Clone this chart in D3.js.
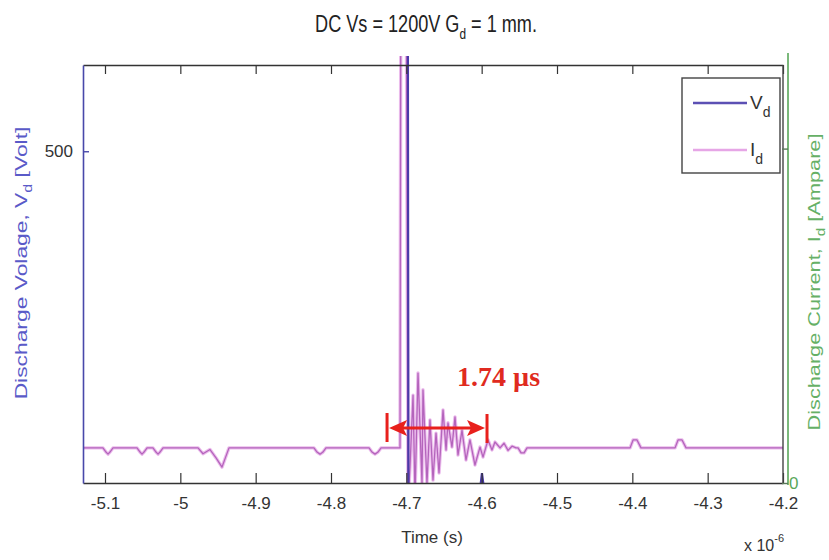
<!DOCTYPE html>
<html>
<head>
<meta charset="utf-8">
<script src="https://cdn.jsdelivr.net/npm/d3@7"></script>
<style>
  html, body { margin: 0; padding: 0; background: #fff; }
  svg { display: block; }
  .sans { font-family: "Liberation Sans", Arial, sans-serif; }
</style>
</head>
<body>
<svg id="chart" width="829" height="560"></svg>
<script>
// Time axis (units of 1e-6 s)
const timeTicks = [-5.1, -5, -4.9, -4.8, -4.7, -4.6, -4.5, -4.4, -4.3, -4.2];
const timeTickLabels = ["-5.1", "-5", "-4.9", "-4.8", "-4.7", "-4.6", "-4.5", "-4.4", "-4.3", "-4.2"];

// Left axis: discharge voltage
const voltTicks = [500];
const voltTickLabels = ["500"];
// Right axis: discharge current
const currentTicks = [0, 8];
const currentTickLabels = ["0", ""];

// Discharge voltage V_d trace
const voltTime = [-5.1292, -4.6985, -4.6972, -4.6020, -4.5996, -4.5970, -4.2];
const voltValue = [1200, 1200, -8, -8, 15, -8, -8];

// Discharge current I_d trace
const currentTime = [
  -5.1292,
  -5.1027, -5.0987, -5.0960, -5.0934, -5.0894,
  -5.0575, -5.0535, -5.0509, -5.0482, -5.0442,
  -5.0363, -5.0323, -5.0296, -5.0270, -5.0230,
  -4.9765, -4.9699, -4.9606, -4.9526, -4.9447, -4.9354,
  -4.8226, -4.8186, -4.8146, -4.8107, -4.8067,
  -4.7495, -4.7456, -4.7416, -4.7376, -4.7336,
  -4.7084, -4.7071, -4.7004, -4.6978, -4.6951, -4.6911, -4.6885,
  -4.6845, -4.6792, -4.6779, -4.6726, -4.6686, -4.6646, -4.6606,
  -4.6566, -4.6513, -4.6473, -4.6447, -4.6394, -4.6354, -4.6314,
  -4.6261, -4.6208, -4.6155, -4.6089, -4.6022, -4.5982, -4.5916,
  -4.5863, -4.5823, -4.5756, -4.5703, -4.5650, -4.5597, -4.5544,
  -4.5517, -4.5477, -4.5437, -4.5398,
  -4.4030, -4.3990, -4.3938, -4.3885,
  -4.3433, -4.3393, -4.3340, -4.3287,
  -4.2
];
const currentValue = [
  0.84,
  0.84, 0.74, 0.69, 0.74, 0.84,
  0.84, 0.74, 0.69, 0.74, 0.84,
  0.84, 0.74, 0.69, 0.74, 0.84,
  0.84, 0.70, 0.80, 0.60, 0.38, 0.84,
  0.84, 0.74, 0.69, 0.74, 0.84,
  0.84, 0.74, 0.69, 0.74, 0.84,
  0.84, 14, 14, -0.5, 0.4, 2.10, -0.3,
  2.63, 0.0, 2.23, 0.0, 1.51, 0.07, 1.19,
  0.24, 1.75, 0.79, 1.44, 0.86, 1.58, 0.67,
  1.26, 0.55, 1.03, 0.43, 0.86, 0.62, 1.03,
  0.79, 0.98, 0.84, 0.95, 0.78, 0.88, 0.84,
  0.84, 0.72, 0.72, 0.84,
  0.84, 1.03, 1.03, 0.84,
  0.84, 1.03, 1.03, 0.84,
  0.84
];

// Pulse-width annotation (time units of 1e-6 s)
const spanStart = -4.7256;
const spanEnd = -4.5929;
const spanLabel = "1.74 \u00b5s";

const svg = d3.select("#chart");
const plot = { left: 83, right: 783, top: 65, bottom: 483 };

const x = d3.scaleLinear().domain([-5.1292, -4.2]).range([plot.left, plot.right]);
const yV = d3.scaleLinear().domain([0, 630]).range([plot.bottom, plot.top]);
const yI = d3.scaleLinear().domain([0, 10]).range([plot.bottom, plot.top]);

svg.append("defs").append("clipPath").attr("id", "plotClip")
  .append("rect")
  .attr("x", plot.left).attr("y", plot.top - 9)
  .attr("width", plot.right - plot.left).attr("height", plot.bottom - plot.top + 9);

// Squeeze or stretch a text element along its own direction to a given length
function fitLength(sel, cx, cy, angle, target) {
  const w = sel.node().getBBox().width;
  const s = target / w;
  sel.attr("transform", `translate(${cx},${cy}) rotate(${angle}) scale(${s},1)`);
}

// Title
const title = svg.append("text").attr("class", "sans")
  .attr("x", 0).attr("y", 0).attr("text-anchor", "middle")
  .attr("font-size", 23).attr("fill", "#222");
title.append("tspan").text("DC Vs = 1200V G");
title.append("tspan").attr("font-size", 15).attr("dy", 7).text("d");
title.append("tspan").attr("dy", -7).text(" = 1 mm.");
fitLength(title, 426, 32, 0, 222);

// Traces
const traces = svg.append("g").attr("clip-path", "url(#plotClip)");
const lineI = d3.line().x(d => x(d[0])).y(d => yI(d[1]));
const lineV = d3.line().x(d => x(d[0])).y(d => yV(d[1]));
const currentPts = currentTime.map((t, i) => [t, currentValue[i]]);

traces.append("path").datum(currentPts).attr("d", lineI)
  .attr("fill", "none").attr("stroke", "#ebbcec").attr("stroke-width", 3.4)
  .attr("stroke-linejoin", "round");
traces.append("path").datum(currentPts).attr("d", lineI)
  .attr("fill", "none").attr("stroke", "#b464bc").attr("stroke-width", 1.3)
  .attr("stroke-linejoin", "round");
traces.append("path")
  .datum(voltTime.map((t, i) => [t, voltValue[i]]))
  .attr("d", lineV)
  .attr("fill", "none").attr("stroke", "#4a3aa8").attr("stroke-width", 2.2);

// Box: bottom and top time axes
const xBottom = d3.axisBottom(x).tickValues(timeTicks)
  .tickFormat((d, i) => timeTickLabels[i]).tickSizeInner(-10).tickSizeOuter(0).tickPadding(14);
const gxb = svg.append("g").attr("transform", `translate(0,${plot.bottom})`).call(xBottom);
gxb.select(".domain").attr("stroke", "#333").attr("stroke-width", 1.6);
gxb.selectAll(".tick line").attr("stroke", "#333").attr("stroke-width", 1.2);
gxb.selectAll(".tick text").attr("class", "sans").attr("font-size", 17).attr("fill", "#333");

const xTop = d3.axisTop(x).tickValues(timeTicks).tickFormat("").tickSizeInner(-9).tickSizeOuter(0);
const gxt = svg.append("g").attr("transform", `translate(0,${plot.top})`).call(xTop);
gxt.select(".domain").attr("stroke", "#333").attr("stroke-width", 1.6);
gxt.selectAll(".tick line").attr("stroke", "#333").attr("stroke-width", 1.2);

// Right edge of the box
svg.append("line").attr("x1", plot.right).attr("x2", plot.right)
  .attr("y1", plot.top).attr("y2", plot.bottom)
  .attr("stroke", "#444").attr("stroke-width", 1.4);

// Left voltage axis
const yLeft = d3.axisLeft(yV).tickValues(voltTicks)
  .tickFormat((d, i) => voltTickLabels[i]).tickSizeInner(-6).tickSizeOuter(0).tickPadding(10);
const gyl = svg.append("g").attr("transform", `translate(${plot.left},0)`).call(yLeft);
gyl.select(".domain").attr("stroke", "#4848aa").attr("stroke-width", 1.6);
gyl.selectAll(".tick line").attr("stroke", "#4848aa").attr("stroke-width", 1.4);
gyl.selectAll(".tick text").attr("class", "sans").attr("font-size", 17).attr("fill", "#333");

// Right current axis
const yRight = d3.axisRight(yI).tickValues(currentTicks)
  .tickFormat((d, i) => currentTickLabels[i]).tickSizeInner(-6).tickSizeOuter(0).tickPadding(1);
const gyr = svg.append("g").attr("transform", `translate(${plot.right + 5},0)`).call(yRight);
gyr.select(".domain").attr("stroke", "#5aa85a").attr("stroke-width", 1.6)
  .attr("d", `M0,${plot.top - 12}V${plot.bottom + 2}`);
gyr.selectAll(".tick line").attr("stroke", "#5a7a5a").attr("stroke-width", 1.4);
gyr.selectAll(".tick text").attr("class", "sans").attr("font-size", 17).attr("fill", "#5aa85a");

// Axis titles
const yLabL = svg.append("text").attr("class", "sans")
  .attr("text-anchor", "middle").attr("font-size", 17).attr("fill", "#5a5ac8");
yLabL.append("tspan").text("Discharge Volage, V");
yLabL.append("tspan").attr("font-size", 12).attr("dy", 5).text("d");
yLabL.append("tspan").attr("dy", -5).text(" [Volt]");
fitLength(yLabL, 27, 263, -90, 273);

const yLabR = svg.append("text").attr("class", "sans")
  .attr("text-anchor", "middle").attr("font-size", 17).attr("fill", "#66b066");
yLabR.append("tspan").text("Discharge Current, I");
yLabR.append("tspan").attr("font-size", 12).attr("dy", 5).text("d");
yLabR.append("tspan").attr("dy", -5).text(" [Ampare]");
fitLength(yLabR, 820, 282, -90, 297);

svg.append("text").attr("class", "sans")
  .attr("x", 432).attr("y", 543).attr("text-anchor", "middle")
  .attr("font-size", 17).attr("fill", "#333").text("Time (s)");

const expo = svg.append("text").attr("class", "sans")
  .attr("x", 744).attr("y", 551).attr("font-size", 16).attr("fill", "#333");
expo.append("tspan").text("x 10");
expo.append("tspan").attr("font-size", 11).attr("dy", -9).text("-6");

// Legend
const legend = svg.append("g");
legend.append("rect").attr("x", 682).attr("y", 78).attr("width", 98).attr("height", 95)
  .attr("fill", "#fff").attr("stroke", "#444").attr("stroke-width", 1.4);
const legendItems = [
  { name: "V", sub: "d", color: "#5c50b4", y: 103 },
  { name: "I", sub: "d", color: "#e6a6e6", y: 150 }
];
legendItems.forEach(item => {
  legend.append("line").attr("x1", 693).attr("x2", 747)
    .attr("y1", item.y).attr("y2", item.y)
    .attr("stroke", item.color).attr("stroke-width", 2.4);
  const t = legend.append("text").attr("class", "sans")
    .attr("x", 750).attr("y", item.y + 6).attr("font-size", 19).attr("fill", "#333");
  t.append("tspan").text(item.name);
  t.append("tspan").attr("font-size", 14).attr("dy", 8).text(item.sub);
});

// Pulse-width annotation
const ann = svg.append("g");
const ay = 428;
const xs = x(spanStart), xe = x(spanEnd);
ann.append("line").attr("x1", xs).attr("x2", xs).attr("y1", 413).attr("y2", 442)
  .attr("stroke", "#e8201c").attr("stroke-width", 3);
ann.append("line").attr("x1", xe).attr("x2", xe).attr("y1", 414).attr("y2", 443)
  .attr("stroke", "#e8201c").attr("stroke-width", 3);
ann.append("line").attr("x1", xs + 14).attr("x2", xe - 14).attr("y1", ay).attr("y2", ay)
  .attr("stroke", "#e8201c").attr("stroke-width", 3);
ann.append("path")
  .attr("d", `M${xs + 2},${ay} L${xs + 20},${ay - 8} L${xs + 16},${ay} L${xs + 20},${ay + 8} Z`)
  .attr("fill", "#e8201c");
ann.append("path")
  .attr("d", `M${xe - 2},${ay} L${xe - 20},${ay - 8} L${xe - 16},${ay} L${xe - 20},${ay + 8} Z`)
  .attr("fill", "#e8201c");
ann.append("text")
  .attr("x", 457).attr("y", 386)
  .attr("font-family", "'Liberation Serif', 'Times New Roman', serif")
  .attr("font-weight", "bold").attr("font-size", 28).attr("fill", "#e02a20")
  .text(spanLabel);
</script>
</body>
</html>
